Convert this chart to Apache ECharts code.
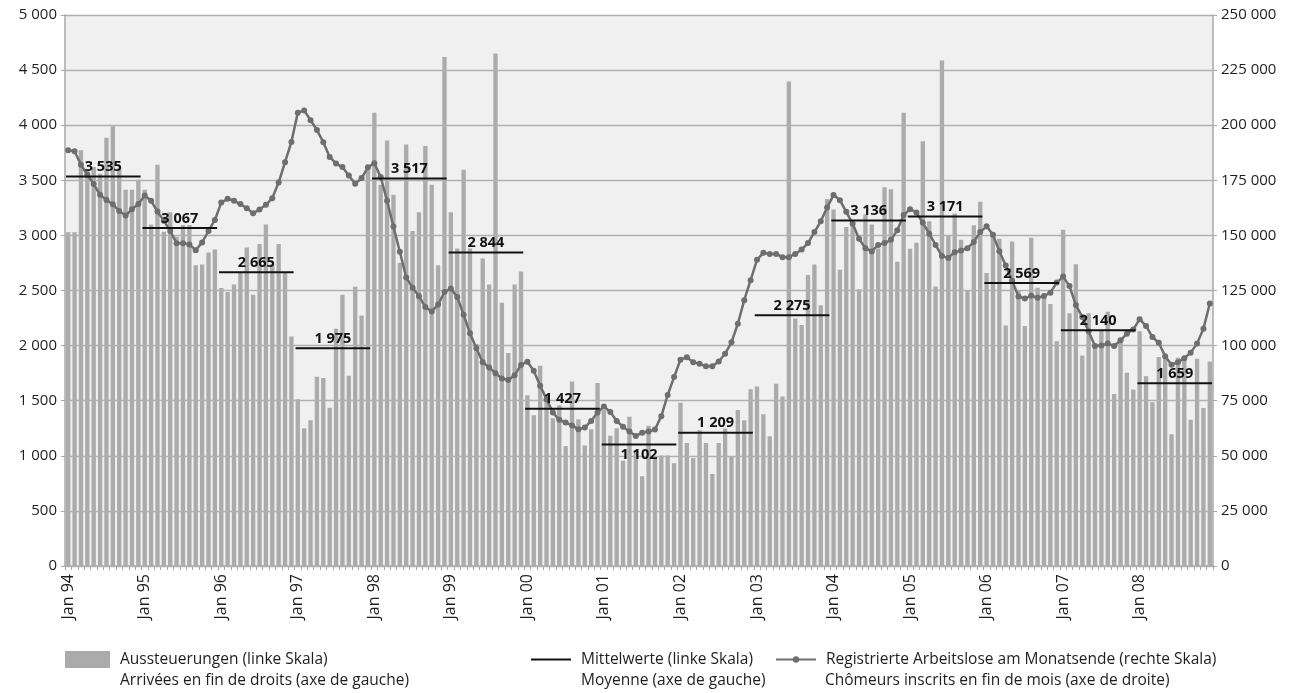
<!DOCTYPE html>
<html>
<head>
<meta charset="utf-8">
<script src="https://cdn.jsdelivr.net/npm/echarts@6/dist/echarts.min.js"></script>
<style>
html,body{margin:0;padding:0;background:#ffffff;}
#chart{width:1300px;height:693px;}
</style>
</head>
<body>
<div id="chart"></div>
<script>
// ---- Data ----
const years = ['94','95','96','97','98','99','00','01','02','03','04','05','06','07','08'];
const monthNames = ['Jan','Feb','Mar','Apr','May','Jun','Jul','Aug','Sep','Oct','Nov','Dec'];
const categories = [];
years.forEach(y => monthNames.forEach(m => categories.push(m + ' ' + y)));

// Aussteuerungen / Arrivées en fin de droits (left axis), monthly
const exhaustions = [
  3028,3028,3773,3590,3620,3560,3885,3991,3610,3414,3414,3505,
  3414,3100,3642,3034,3210,2988,3095,3095,2730,2736,2845,2873,
  2523,2487,2554,2669,2891,2462,2921,3100,2739,2921,2669,2082,
  1514,1249,1322,1718,1705,1435,2152,2462,1727,2535,2274,3607,
  4113,3460,3861,3368,2751,3824,3040,3210,3812,3460,2730,4620,
  3210,2882,3596,2882,2015,2791,2554,4650,2389,1933,2554,2672,
  1550,1368,1818,1500,1341,1458,1088,1675,1332,1094,1240,1660,
  1415,1183,1249,956,1355,1052,815,1272,988,1003,1003,933,
  1482,1116,979,1232,1116,835,1116,1247,994,1415,1323,1604,
  1628,1378,1177,1653,1537,4397,2247,2186,2640,2735,2366,3330,
  3235,2689,3076,3100,2512,3189,3098,2880,3436,3418,2762,4113,
  2878,2933,3854,3128,2537,4586,3000,3198,2961,2503,3092,3305,
  2659,3031,2970,2183,2945,2500,2177,2979,2525,2443,2377,2039,
  3052,2294,2739,1911,2294,1996,2139,2307,1561,2033,1753,1601,
  2130,1722,1485,1896,1900,1196,1890,1880,1327,1880,1433,1856
];

// Registrierte Arbeitslose am Monatsende (right axis), monthly
const registeredUnemployed = [
  188600,188200,182100,177500,173300,168400,166100,164100,161100,159000,161900,164200,
  168100,165700,160800,156700,152000,146400,146400,145900,143300,146800,152000,157000,
  164900,166600,165700,164200,162300,160000,161800,163900,166900,174000,183200,192400,
  205700,206700,202300,197800,192300,185600,182600,181000,177200,173400,176000,180900,
  182700,176500,165700,154000,142600,130900,126200,122400,117500,115500,118600,124300,
  125900,122100,114000,105600,98800,92400,90100,87400,85100,84400,86600,91200,
  92700,88600,81800,75700,69600,66300,65100,63800,62000,62800,65800,69600,
  72400,69900,65800,63200,61000,59000,60500,61000,61900,68000,77600,85700,
  93600,94700,92500,91800,90600,90600,92800,96300,101500,109900,120600,129700,
  138900,142100,141600,141600,140100,140100,141600,143600,146500,151500,156400,162700,
  168300,166000,160700,155300,148500,144200,142700,145700,146500,148000,152300,159200,
  161900,160400,155700,150800,145700,140600,139800,142400,143100,144200,147000,151500,
  154100,150300,142800,136300,129400,122300,121400,122600,121700,122500,124000,128600,
  131300,127000,118400,113000,106500,99800,100100,100900,99800,102400,105400,107300,
  112000,108900,103900,101300,95200,91300,92500,94300,96800,100900,107700,119100
];

// Mittelwerte / Moyenne (left axis), one per year
const yearlyMeans = [3535,3067,2665,1975,3517,2844,1427,1102,1209,2275,3136,3171,2569,2140,1659];
// years whose mean label sits under its line
const labelBelowYears = ['01'];

// ---- Names ----
const barName = 'Aussteuerungen (linke Skala)';
const meanName = 'Mittelwerte (linke Skala)';
const lineName = 'Registrierte Arbeitslose am Monatsende (rechte Skala)';
const barNameFr = 'Arrivées en fin de droits (axe de gauche)';
const meanNameFr = 'Moyenne (axe de gauche)';
const lineNameFr = 'Chômeurs inscrits en fin de mois (axe de droite)';

const FONT = '"Open Sans", "Noto Sans", sans-serif';
const fmt = n => String(n).replace(/\B(?=(\d{3})+(?!\d))/g, ' ');

const meanData = yearlyMeans.map((m, k) => [k * 12, k * 12 + 11, m, years[k]]);

const chart = echarts.init(document.getElementById('chart'), null, {renderer: 'canvas'});

const legendCommon = {
  orient: 'horizontal',
  top: 651,
  padding: 0,
  itemHeight: 17,
  itemGap: 0,
  selectedMode: false,
  textStyle: {fontFamily: FONT, fontSize: 15.5, color: '#1e1e1e', lineHeight: 17, padding: [0, 0, 0, 5]}
};

const frStyle = {fill: '#1e1e1e', font: '15.5px ' + FONT, verticalAlign: 'middle', align: 'left'};

const option = {
  backgroundColor: '#ffffff',
  animation: false,
  textStyle: {fontFamily: FONT},
  grid: {left: 65, right: 87, top: 15, bottom: 127, show: true, backgroundColor: '#f0f0f0', borderWidth: 0},
  legend: [
    Object.assign({}, legendCommon, {left: 65, itemWidth: 45, data: [{name: barName, icon: 'rect'}]}),
    Object.assign({}, legendCommon, {left: 531, itemWidth: 40, data: [{name: meanName, icon: 'path://M0,0H40V2H0Z'}]}),
    Object.assign({}, legendCommon, {left: 775, itemWidth: 40, itemHeight: 8, data: [{name: lineName}]})
  ],
  graphic: [
    {type: 'text', x: 120, y: 681, style: Object.assign({text: barNameFr}, frStyle)},
    {type: 'text', x: 581, y: 681, style: Object.assign({text: meanNameFr}, frStyle)},
    {type: 'text', x: 825, y: 681, style: Object.assign({text: lineNameFr}, frStyle)}
  ],
  xAxis: {
    type: 'category',
    data: categories,
    boundaryGap: true,
    axisLine: {show: true, lineStyle: {color: '#a8a8a8', width: 1.5}},
    axisTick: {show: true, interval: 0, length: 4, lineStyle: {color: '#a8a8a8'}},
    axisLabel: {interval: 11, rotate: 90, margin: 8, fontSize: 16, color: '#1e1e1e', fontFamily: FONT},
    splitLine: {show: false}
  },
  yAxis: [
    {
      type: 'value', min: 0, max: 5000, interval: 500, position: 'left', z: 3,
      axisLine: {show: true, lineStyle: {color: '#a8a8a8', width: 1.5}},
      axisTick: {show: true, length: 4, lineStyle: {color: '#a8a8a8'}},
      axisLabel: {formatter: v => fmt(v), fontSize: 15, color: '#1e1e1e', margin: 8, fontFamily: FONT},
      splitLine: {show: true, lineStyle: {color: '#b0b0b0', width: 1.3}}
    },
    {
      type: 'value', min: 0, max: 250000, interval: 25000, position: 'right',
      axisLine: {show: true, lineStyle: {color: '#a8a8a8', width: 1.5}},
      axisTick: {show: true, length: 4, lineStyle: {color: '#a8a8a8'}},
      axisLabel: {formatter: v => fmt(v), fontSize: 15, color: '#1e1e1e', margin: 8, fontFamily: FONT},
      splitLine: {show: false}
    }
  ],
  series: [
    {
      name: barName,
      type: 'bar',
      yAxisIndex: 0,
      data: exhaustions,
      barCategoryGap: '32%',
      itemStyle: {color: '#ababab'},
      z: 2
    },
    {
      name: lineName,
      type: 'line',
      yAxisIndex: 1,
      data: registeredUnemployed,
      symbol: 'circle',
      symbolSize: 6,
      showSymbol: true,
      showAllSymbol: true,
      lineStyle: {color: '#6e6e6e', width: 2.5},
      itemStyle: {color: '#6e6e6e'},
      z: 5
    },
    {
      name: meanName,
      type: 'custom',
      yAxisIndex: 0,
      data: meanData,
      itemStyle: {color: '#111111'},
      z: 6,
      renderItem: (params, api) => {
        const v = api.value(2);
        const p1 = api.coord([api.value(0), v]);
        const p2 = api.coord([api.value(1), v]);
        const band = api.size([1, 0])[0];
        const x1 = p1[0] - band * 0.35;
        const x2 = p2[0] + band * 0.35;
        const below = labelBelowYears.indexOf(meanData[params.dataIndex][3]) >= 0;
        return {
          type: 'group',
          children: [
            {type: 'line', shape: {x1: x1, y1: p1[1], x2: x2, y2: p1[1]}, style: {stroke: '#111111', lineWidth: 2}},
            {type: 'text', x: (x1 + x2) / 2, y: below ? p1[1] + 3 : p1[1] - 2,
              style: {text: fmt(v), fill: '#111111', font: 'bold 14.5px ' + FONT,
                align: 'center', verticalAlign: below ? 'top' : 'bottom'}}
          ]
        };
      }
    }
  ]
};
chart.setOption(option);
</script>
</body>
</html>
